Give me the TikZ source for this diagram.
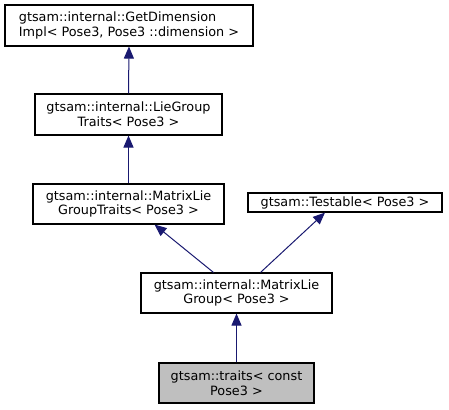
\documentclass[tikz,border=0pt]{standalone}
\usepackage{fontspec}
\setmainfont{DejaVu Sans}
\usetikzlibrary{arrows.meta}
\definecolor{edgeblue}{HTML}{191970}
\definecolor{current}{HTML}{BFBFBF}
\tikzset{
  cls/.style={draw, rectangle, line width=1.1pt, inner sep=0pt, align=center,
    font=\fontsize{12.8}{14.8}\selectfont},
  inherit/.style={edgeblue, line width=1pt, -{Triangle[width=10pt,length=12pt]}}
}
\begin{document}
\begin{tikzpicture}[x=1pt, y=-1pt]
        \useasboundingbox (0,0) rectangle (449,409);

        % Base classes
        \node[cls, align=left, minimum width=248pt, minimum height=41pt] (getdim) at (129,25.5)
          {gtsam::internal::GetDimension\\Impl< Pose3, Pose3 ::dimension >};
        \node[cls, minimum width=187pt, minimum height=41pt] (lietraits) at (128.5,114.5)
          {gtsam::internal::LieGroup\\Traits< Pose3 >};
        \node[cls, minimum width=191pt, minimum height=40pt] (mlgtraits) at (128.5,204)
          {gtsam::internal::MatrixLie\\GroupTraits< Pose3 >};
        \node[cls, minimum width=194pt, minimum height=19pt] (testable) at (345,202.5)
          {gtsam::Testable< Pose3 >};
        \node[cls, minimum width=191pt, minimum height=40pt] (mlg) at (236.5,293)
          {gtsam::internal::MatrixLie\\Group< Pose3 >};

        % The class itself
        \node[cls, fill=current, minimum width=155pt, minimum height=40pt] (traits) at (236.5,383)
          {gtsam::traits< const\\Pose3 >};

        % Inheritance edges
        \draw[inherit] (lietraits.north) -- (getdim.south);
        \draw[inherit] (mlgtraits.north) -- (lietraits.south);
        \draw[inherit] ([xshift=-23pt]mlg.north) -- ([xshift=26pt]mlgtraits.south);
        \draw[inherit] ([xshift=24pt]mlg.north) -- ([xshift=-20pt]testable.south);
        \draw[inherit] (traits.north) -- (mlg.south);
      \end{tikzpicture}
\end{document}
